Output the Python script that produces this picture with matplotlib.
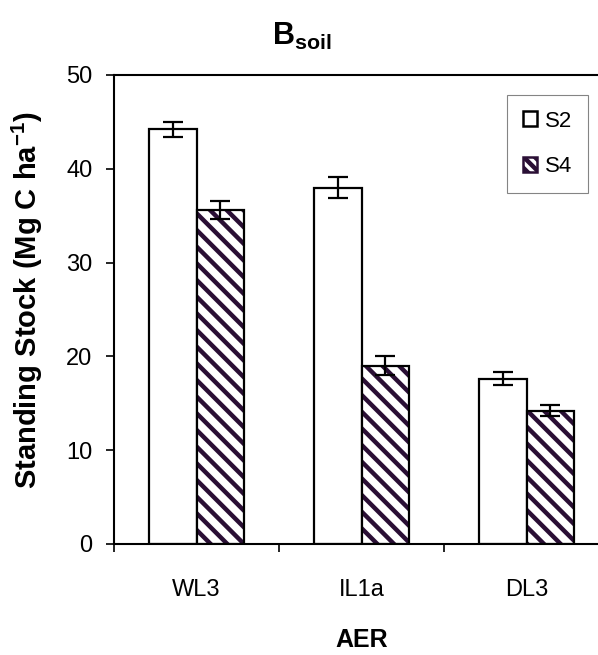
import matplotlib
matplotlib.use("Agg")
import matplotlib.pyplot as plt
import numpy as np
from matplotlib.patches import Patch

plt.rcParams['font.family'] = ['Liberation Sans', 'DejaVu Sans']
plt.rcParams['mathtext.fontset'] = 'custom'
plt.rcParams['mathtext.rm'] = 'Liberation Sans'
plt.rcParams['mathtext.bf'] = 'Liberation Sans:bold'
plt.rcParams['hatch.linewidth'] = 3.2

categories = ["WL3", "IL1a", "DL3"]
series_names = ["S2", "S4"]
s2_values = [44.2, 38.0, 17.6]
s2_err = [0.8, 1.1, 0.7]
s4_values = [35.6, 19.0, 14.2]
s4_err = [0.95, 1.0, 0.6]
yticks = [0, 10, 20, 30, 40, 50]

hatch_col = '#2a0f35'

fig = plt.figure(figsize=(5.98, 6.55), dpi=100)
ax = fig.add_axes([114/598, 1-544/655, 495/598, (544-75)/655])

x = np.arange(len(categories))
w = 0.29
ax.bar(x - w/2, s2_values, w, color='white', edgecolor='black', linewidth=1.6, zorder=2)
ax.errorbar(x - w/2, s2_values, yerr=s2_err, fmt='none', ecolor='black',
            elinewidth=1.6, capsize=7, capthick=1.6, zorder=4)
ax.bar(x + w/2, s4_values, w, color='white', edgecolor=hatch_col, hatch='\\\\', linewidth=0, zorder=2)
ax.bar(x + w/2, s4_values, w, color='none', edgecolor='black', linewidth=1.6, zorder=3)
ax.errorbar(x + w/2, s4_values, yerr=s4_err, fmt='none', ecolor='black',
            elinewidth=1.6, capsize=7, capthick=1.6, zorder=4)

ax.set_xlim(-0.5, 2.5)
ax.set_ylim(0, 50)
ax.set_yticks(yticks)
ax.set_yticklabels([str(t) for t in yticks], fontsize=17)
ax.set_xticks([-0.5, 0.5, 1.5, 2.5])
ax.set_xticklabels([])
ax.set_xticks(x, minor=True)
ax.set_xticklabels(categories, minor=True, fontsize=17)
ax.tick_params(axis='x', which='minor', length=0, pad=25)
ax.tick_params(axis='x', which='major', length=6, width=1.2, direction='out')
ax.tick_params(axis='y', length=5.5, width=1.2, direction='out', pad=10)
for s in ['left', 'bottom', 'top', 'right']:
    ax.spines[s].set_linewidth(1.5)

ax.set_ylabel(r'Standing Stock (Mg C ha$^{\mathbf{-1}}$)', fontsize=21, fontweight='bold')
ax.yaxis.set_label_coords(-0.139, 0.52)
ax.set_xlabel('AER', fontsize=18, fontweight='bold')
ax.xaxis.set_label_coords(0.5, -0.18)

fig.text(302/598, 1-36/655, r'B$_{\mathbf{soil}}$', fontsize=22, fontweight='bold', ha='center', va='center')

handles = [Patch(facecolor='white', edgecolor='black', linewidth=1.8),
           Patch(facecolor='white', edgecolor=hatch_col, hatch='\\\\\\', linewidth=1.8)]
leg = ax.legend(handles, series_names, loc='upper left', bbox_to_anchor=((507-114)/495, 1-(95-75)/469),
                fontsize=16, frameon=True, fancybox=False, edgecolor='#666666',
                handlelength=0.65, handleheight=0.65, handletextpad=0.35, labelspacing=1.1,
                borderpad=0.7, borderaxespad=0)
leg.get_frame().set_linewidth(0.8)

fig.savefig('out.png', dpi=100)
